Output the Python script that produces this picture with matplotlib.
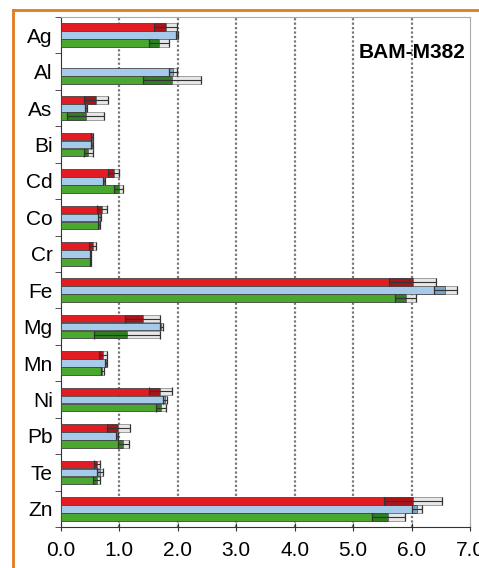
import numpy as np
import matplotlib.pyplot as plt
from matplotlib.lines import Line2D

# elements, top to bottom
elements = ['Ag', 'Al', 'As', 'Bi', 'Cd', 'Co', 'Cr', 'Fe', 'Mg', 'Mn', 'Ni', 'Pb', 'Te', 'Zn']

# values and uncertainties of the three series (red / blue / green)
red_val = [1.79, np.nan, 0.60, 0.53, 0.90, 0.70, 0.54, 6.02, 1.40, 0.72, 1.70, 0.98, 0.61, 6.02]
red_err = [0.20, np.nan, 0.20, 0.02, 0.10, 0.09, 0.06, 0.40, 0.30, 0.07, 0.20, 0.20, 0.05, 0.50]
blue_val = [1.98, 1.92, 0.43, 0.53, 0.74, 0.66, 0.51, 6.58, 1.72, 0.77, 1.78, 0.96, 0.67, 6.09]
blue_err = [0.02, 0.07, 0.02, 0.02, 0.02, 0.03, 0.01, 0.20, 0.02, 0.02, 0.03, 0.02, 0.05, 0.09]
green_val = [1.68, 1.90, 0.42, 0.47, 0.99, 0.65, 0.51, 5.90, 1.13, 0.71, 1.71, 1.07, 0.61, 5.60]
green_err = [0.17, 0.50, 0.32, 0.08, 0.08, 0.01, 0.01, 0.18, 0.57, 0.02, 0.09, 0.09, 0.06, 0.28]

label = 'BAM-M382'

series = [
    (red_val, red_err, '#e31b23', '#a8141a'),
    (blue_val, blue_err, '#a6cae9', '#7aa3c6'),
    (green_val, green_err, '#4aa82e', '#2e7f1f'),
]

plt.rcParams['font.family'] = ['Liberation Sans', 'DejaVu Sans']

fig = plt.figure(figsize=(4.79, 5.68), dpi=100)
ax = fig.add_axes([0.1273, 0.0722, 0.8539, 0.8978])

n = len(elements)
y = np.arange(n)
h = 0.21
offs = [-0.22, 0.0, 0.22]

for (val, err, col, dark), off in zip(series, offs):
    val = np.array(val)
    err = np.array(err)
    yy = y + off
    ax.barh(yy, val, height=h, color=col, edgecolor='#444444', linewidth=0.6, zorder=3)
    # darker segment below the value, light gray above it
    ax.barh(yy, err, left=val - err, height=h, color=dark, edgecolor='#444444', linewidth=0.6, zorder=4)
    ax.barh(yy, err, left=val, height=h, color='#dedede', alpha=0.7, edgecolor='#666666', linewidth=0.6, zorder=4)
    ax.errorbar(val, yy, xerr=err, fmt='none', ecolor='#333333', elinewidth=0.8,
                capsize=3, capthick=0.9, zorder=5)

ax.set_xlim(0, 7)
ax.set_ylim(n - 0.5, -0.5)
ax.set_xticks(np.arange(0, 8, 1))
ax.set_xticklabels(['%.1f' % v for v in range(8)], fontsize=15)
ax.set_yticks(y)
ax.set_yticklabels(elements, fontsize=15)
ax.set_yticks(np.arange(-0.5, n, 1), minor=True)
ax.tick_params(axis='y', which='major', length=0, pad=6)
ax.tick_params(axis='y', which='minor', length=4, direction='out', color='#333333')
ax.tick_params(axis='x', length=6, direction='inout', color='#333333', pad=7)

for xv in range(1, 7):
    ax.axvline(xv, color='#777777', linestyle=(0, (1, 1)), linewidth=1.6, zorder=1)

ax.spines['left'].set_color('#333333')
ax.spines['bottom'].set_color('#333333')
ax.spines['top'].set_color('#aaaaaa')
ax.spines['right'].set_color('#aaaaaa')

ax.text(0.99, 0.95, label, transform=ax.transAxes, ha='right', va='top',
        fontsize=15, fontweight='bold', zorder=6)

# orange frame (top and left only)
fig.add_artist(Line2D([13 / 479, 1], [1 - 10 / 568, 1 - 10 / 568], color='#e07b20', linewidth=2, transform=fig.transFigure))
fig.add_artist(Line2D([13 / 479, 13 / 479], [0, 1 - 10 / 568], color='#e07b20', linewidth=2, transform=fig.transFigure))

fig.savefig('out.png', dpi=100)
